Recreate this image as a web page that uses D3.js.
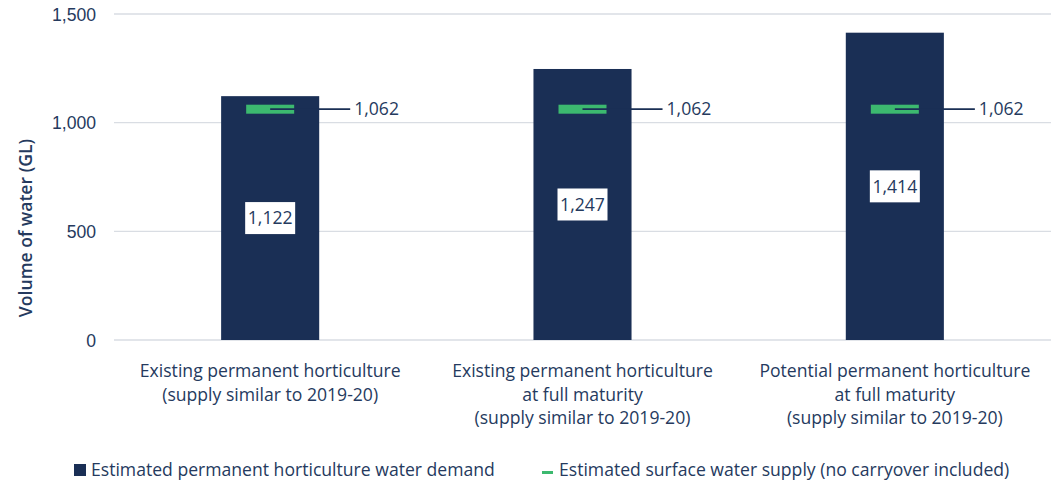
<!DOCTYPE html>
<html>
<head>
<meta charset="utf-8">
<script src="https://cdn.jsdelivr.net/npm/d3@7"></script>
<style>
  body { margin: 0; background: #fff; }
  svg { font-family: "Open Sans", "Noto Sans", sans-serif; }
</style>
</head>
<body>
<div class="canvas"></div>
<script>
const categories = [
  ["Existing permanent horticulture", "(supply similar to 2019-20)"],
  ["Existing permanent horticulture", "at full maturity", "(supply similar to 2019-20)"],
  ["Potential permanent horticulture", "at full maturity", "(supply similar to 2019-20)"]
];
const demand = [1122, 1247, 1414];
const supply = [1062, 1062, 1062];
const yTicks = [0, 500, 1000, 1500];
const legendLabels = [
  "Estimated permanent horticulture water demand",
  "Estimated surface water supply (no carryover included)"
];

const width = 1058;
const height = 486;
const navy = "#1a2f55";
const green = "#3cb96f";
const textColor = "#253a5e";
const fontSize = "17.6px";

const svg = d3.select(".canvas").append("svg")
  .attr("width", width).attr("height", height);

const x = d3.scaleBand()
  .domain(d3.range(categories.length))
  .range([114, 1051])
  .paddingInner(0.686)
  .paddingOuter(0.343);

const y = d3.scaleLinear().domain([0, 1500]).range([340, 14]);

// gridlines
svg.append("g")
  .selectAll("line")
  .data(yTicks)
  .enter()
  .append("line")
  .attr("x1", 114).attr("x2", 1051)
  .attr("y1", (d) => y(d)).attr("y2", (d) => y(d))
  .attr("stroke", "#d9dde3").attr("stroke-width", 1.3);

const yAxis = svg.append("g")
  .attr("transform", "translate(96,0)")
  .call(d3.axisLeft(y).tickValues(yTicks).tickSize(0).tickFormat(d3.format(",")));
yAxis.select(".domain").remove();
yAxis.selectAll("text")
  .attr("x", 0)
  .attr("dy", "0.35em")
  .style("font-size", fontSize)
  .style("font-family", "inherit")
  .attr("fill", textColor);

svg.append("text")
  .attr("transform", "translate(32,228) rotate(-90)")
  .attr("text-anchor", "middle")
  .style("font-size", "17.6px")
  .style("font-weight", 600)
  .attr("fill", textColor)
  .text("Volume of water (GL)");

// bars
svg.append("g")
  .selectAll("rect")
  .data(demand)
  .enter()
  .append("rect")
  .attr("x", (d, i) => x(i))
  .attr("y", (d) => y(d))
  .attr("width", x.bandwidth())
  .attr("height", (d) => y(0) - y(d))
  .attr("fill", navy);

// supply markers
const marker = svg.append("g")
  .selectAll("g")
  .data(supply)
  .enter()
  .append("g");

marker.append("rect")
  .attr("x", (d, i) => x(i) + x.bandwidth() / 2 - 24)
  .attr("y", (d) => y(d) - 4.5)
  .attr("width", 48)
  .attr("height", 9)
  .attr("fill", green);

marker.append("line")
  .attr("x1", (d, i) => x(i) + x.bandwidth() / 2)
  .attr("x2", (d, i) => x(i) + x.bandwidth() + 31)
  .attr("y1", (d) => y(d))
  .attr("y2", (d) => y(d))
  .attr("stroke", navy)
  .attr("stroke-width", 1.8);

marker.append("text")
  .attr("x", (d, i) => x(i) + x.bandwidth() + 35)
  .attr("y", (d) => y(d))
  .attr("dy", "0.35em")
  .style("font-size", fontSize)
  .attr("fill", textColor)
  .text((d) => d3.format(",")(d));

// value labels
const valueLabel = svg.append("g")
  .selectAll("g")
  .data(demand)
  .enter()
  .append("g")
  .attr("transform", (d, i) => `translate(${x(i) + x.bandwidth() / 2},${y(d / 2)})`);

valueLabel.append("rect")
  .attr("x", -25).attr("y", -16)
  .attr("width", 50).attr("height", 32)
  .attr("fill", "#fff");

valueLabel.append("text")
  .attr("text-anchor", "middle")
  .attr("dy", "0.35em")
  .style("font-size", fontSize)
  .attr("fill", textColor)
  .text((d) => d3.format(",")(d));

// category labels
const catLabel = svg.append("g")
  .selectAll("text")
  .data(categories)
  .enter()
  .append("text")
  .attr("text-anchor", "middle")
  .attr("x", (d, i) => x(i) + x.bandwidth() / 2)
  .attr("y", 377)
  .style("font-size", fontSize)
  .attr("fill", textColor);

catLabel.selectAll("tspan")
  .data((d) => d)
  .enter()
  .append("tspan")
  .attr("x", function () { return this.parentNode.getAttribute("x"); })
  .attr("dy", (d, i) => (i === 0 ? 0 : 23.5))
  .text((d) => d);

// legend
const legend = svg.append("g").attr("transform", "translate(0,470)");

legend.append("rect")
  .attr("x", 74).attr("y", -6)
  .attr("width", 12).attr("height", 12)
  .attr("fill", navy);
legend.append("text")
  .attr("x", 91).attr("dy", "0.35em")
  .style("font-size", fontSize)
  .attr("fill", textColor)
  .text(legendLabels[0]);

legend.append("rect")
  .attr("x", 542).attr("y", 1)
  .attr("width", 11).attr("height", 3)
  .attr("fill", green);
legend.append("text")
  .attr("x", 559).attr("dy", "0.35em")
  .style("font-size", fontSize)
  .attr("fill", textColor)
  .text(legendLabels[1]);
</script>
</body>
</html>
